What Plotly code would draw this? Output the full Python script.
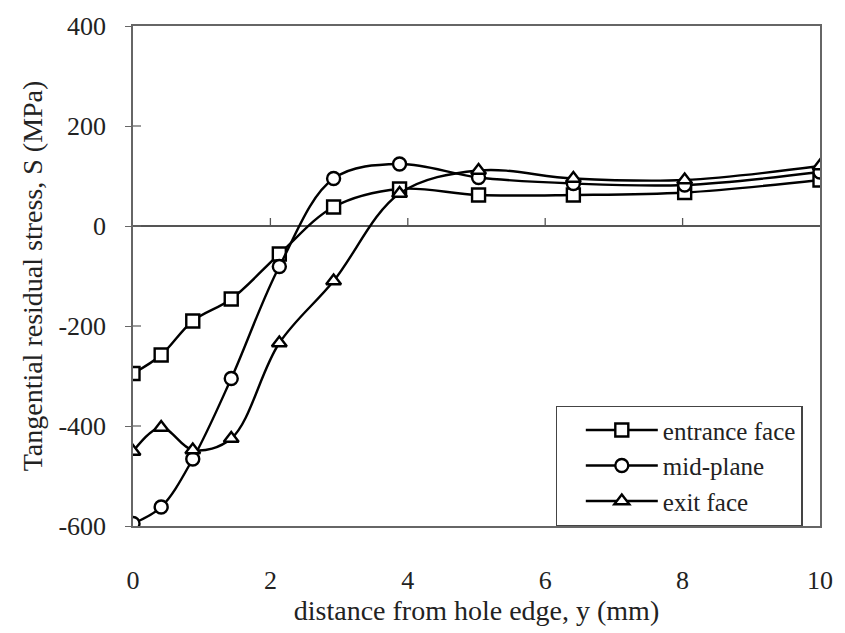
import plotly.graph_objects as go

# data
x_mm = [0, 0.41, 0.87, 1.43, 2.13, 2.92, 3.88, 5.03, 6.41, 8.03, 10]
entrance_face = [-295, -258, -190, -146, -56, 38, 74, 62, 62, 67, 92]
mid_plane = [-595, -562, -466, -305, -81, 95, 124, 97, 85, 82, 108]
exit_face = [-451, -403, -448, -425, -234, -110, 65, 111, 95, 92, 120]

series = [
    ("entrance face", entrance_face, "square"),
    ("mid-plane", mid_plane, "circle"),
    ("exit face", exit_face, "triangle-up"),
]

x_ticks = [0, 2, 4, 6, 8, 10]
y_ticks = [-600, -400, -200, 0, 200, 400]
y_tick_text = ["-600", "-400", "-200", "0", "200", "400"]

FONT = "Liberation Serif"

fig = go.Figure()
for name, vals, sym in series:
    fig.add_trace(go.Scatter(
        x=x_mm, y=vals, name=name, mode="lines+markers",
        line=dict(color="black", width=2.4, shape="spline", smoothing=1.0),
        marker=dict(symbol=sym, size=13, color="white",
                    line=dict(color="black", width=2.4)),
    ))

# x tick marks sit on the zero line, pointing up
for xt in x_ticks[1:-1]:
    fig.add_shape(type="line", xref="x", yref="y", x0=xt, x1=xt,
                  ysizemode="pixel", yanchor=0, y0=0, y1=8,
                  line=dict(color="#555", width=1.3))
# y tick marks cross the axis: inner part
for yt in y_ticks[1:-1]:
    fig.add_shape(type="line", xref="x", yref="y", y0=yt, y1=yt,
                  xsizemode="pixel", xanchor=0, x0=0, x1=8,
                  line=dict(color="#666", width=1.3))

fig.update_layout(
    width=845, height=633,
    margin=dict(l=133, r=18, t=23, b=100),
    paper_bgcolor="white", plot_bgcolor="white",
    font=dict(family=FONT, size=26, color="#222"),
    showlegend=True,
    legend=dict(
        x=0.615, y=0.0, xanchor="left", yanchor="bottom",
        bgcolor="white", bordercolor="#444", borderwidth=1.3,
        font=dict(family=FONT, size=25, color="#222"),
        tracegroupgap=0, itemwidth=72, indentation=24,
        entrywidth=284, entrywidthmode="pixels",
    ),
    xaxis=dict(
        range=[0, 10], tickvals=x_ticks, ticks="", showgrid=False,
        zeroline=False, showline=True, linecolor="#666", linewidth=1.5,
        mirror=True, ticklabelstandoff=30,
        tickfont=dict(family=FONT, size=26, color="#222"),
        title=dict(text="distance from hole edge, y (mm)",
                   font=dict(family=FONT, size=28, color="#222"), standoff=6),
    ),
    yaxis=dict(
        range=[-600, 400], tickvals=y_ticks, ticktext=y_tick_text,
        ticks="outside", ticklen=6,
        tickcolor="#666", tickwidth=1.3, showgrid=False,
        zeroline=True, zerolinecolor="#555", zerolinewidth=1.5,
        showline=True, linecolor="#666", linewidth=1.5, mirror=True,
        ticklabelstandoff=14,
        tickfont=dict(family=FONT, size=26, color="#222"),
        title=dict(text="Tangential residual stress, S (MPa)",
                   font=dict(family=FONT, size=28, color="#222"), standoff=8),
    ),
)

fig.write_html("out.html")
